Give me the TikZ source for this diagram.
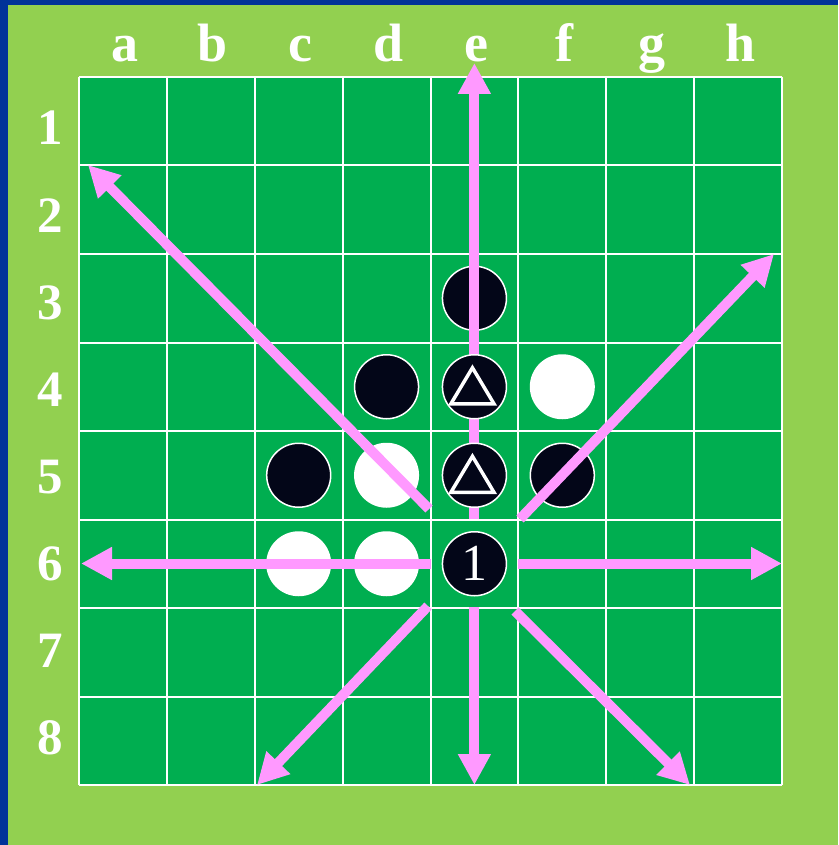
\documentclass[tikz,border=0pt]{standalone}
\usepackage{fontspec}
\setmainfont{Liberation Serif}
\usetikzlibrary{arrows.meta}
\definecolor{bgblue}{RGB}{0,51,153}
\definecolor{bglight}{RGB}{146,208,80}
\definecolor{boardgreen}{RGB}{0,174,80}
\definecolor{arrowpink}{RGB}{255,153,255}
\definecolor{stoneblack}{RGB}{3,6,24}
\tikzset{
  bstone/.style={circle, minimum size=64pt, inner sep=0pt, fill=stoneblack, draw=white, line width=1.5pt},
  wstone/.style={circle, minimum size=65pt, inner sep=0pt, fill=white},
  gridline/.style={white, line width=2pt},
  collbl/.style={text=white, font=\fontsize{54}{54}\selectfont\bfseries, anchor=base, inner sep=0pt},
  rowlbl/.style={text=white, font=\fontsize{51}{51}\selectfont\bfseries, anchor=base, inner sep=0pt},
  movearrow/.style={arrowpink, line width=10pt, -{Triangle[length=31pt,width=31pt]}},
  trimark/.style={white, line width=3.5pt, line join=miter}
}
\begin{document}
\begin{tikzpicture}[x=1pt,y=-1pt]
\useasboundingbox (0,0) rectangle (838,845);
\fill[bgblue] (0,0) rectangle (838,845);
\fill[bglight] (8,5) rectangle (838,845);
% board
\fill[boardgreen] (79,77) rectangle (782,785);
\foreach \i in {0,...,8} {
  \draw[gridline] ({79+87.875*\i},77) -- ({79+87.875*\i},785);
  \draw[gridline] (79,{77+88.5*\i}) -- (782,{77+88.5*\i});
}
% column labels
\foreach \l [count=\i from 0] in {a,b,c,d,e,f,g,h}
  \node[collbl] (col\l) at ({79+87.875*(\i+0.5)+2},62) {\l};
% row labels
\foreach \r in {1,...,8}
  \node[rowlbl] (row\r) at (50,{145+87.1*(\r-1)}) {\r};
% plain stones (below arrows)
\foreach \n/\c/\r in {e3/4/3, d4/3/4, c5/2/5, f5/5/5}
  \node[bstone] (\n) at ({79+87.875*(\c+0.5)},{77+88.5*(\r-0.5)}) {};
\foreach \n/\c/\r in {f4/5/4, d5/3/5, c6/2/6, d6/3/6}
  \node[wstone] (\n) at ({79+87.875*(\c+0.5)},{77+88.5*(\r-0.5)}) {};
% arrow coordinates
\coordinate (sU) at (474.4,519);   \coordinate (tU) at (474.4,63);
\coordinate (sD) at (474.4,607);   \coordinate (tD) at (474.4,785);
\coordinate (sL) at (431,563.5);   \coordinate (tL) at (81,563.5);
\coordinate (sR) at (518,563.5);   \coordinate (tR) at (782,563.5);
\coordinate (sUL) at (429,509);    \coordinate (tUL) at (88,165);
\coordinate (sUR) at (520,519);    \coordinate (tUR) at (774,254);
\coordinate (sDL) at (428,606);    \coordinate (tDL) at (257,785);
\coordinate (sDR) at (515,611);    \coordinate (tDR) at (690,785);
\foreach \d in {U,D,L,R,UL,UR,DL,DR}
  \draw[movearrow] (s\d) -- (t\d);
% stones above arrows
\node[bstone] (e4) at ({79+87.875*4.5},{77+88.5*3.5}) {};
\node[bstone] (e5) at ({79+87.875*4.5},{77+88.5*4.5}) {};
\node[bstone, text=white, font=\fontsize{52}{52}\selectfont] (e6) at ({79+87.875*4.5},{77+88.5*5.5}) {1};
\foreach \n in {e4,e5}
  \draw[trimark] ([shift={(-2,-19)}]\n.center) -- ([shift={(-23.5,17)}]\n.center) -- ([shift={(19.5,17)}]\n.center) -- cycle;
\end{tikzpicture}
\end{document}
